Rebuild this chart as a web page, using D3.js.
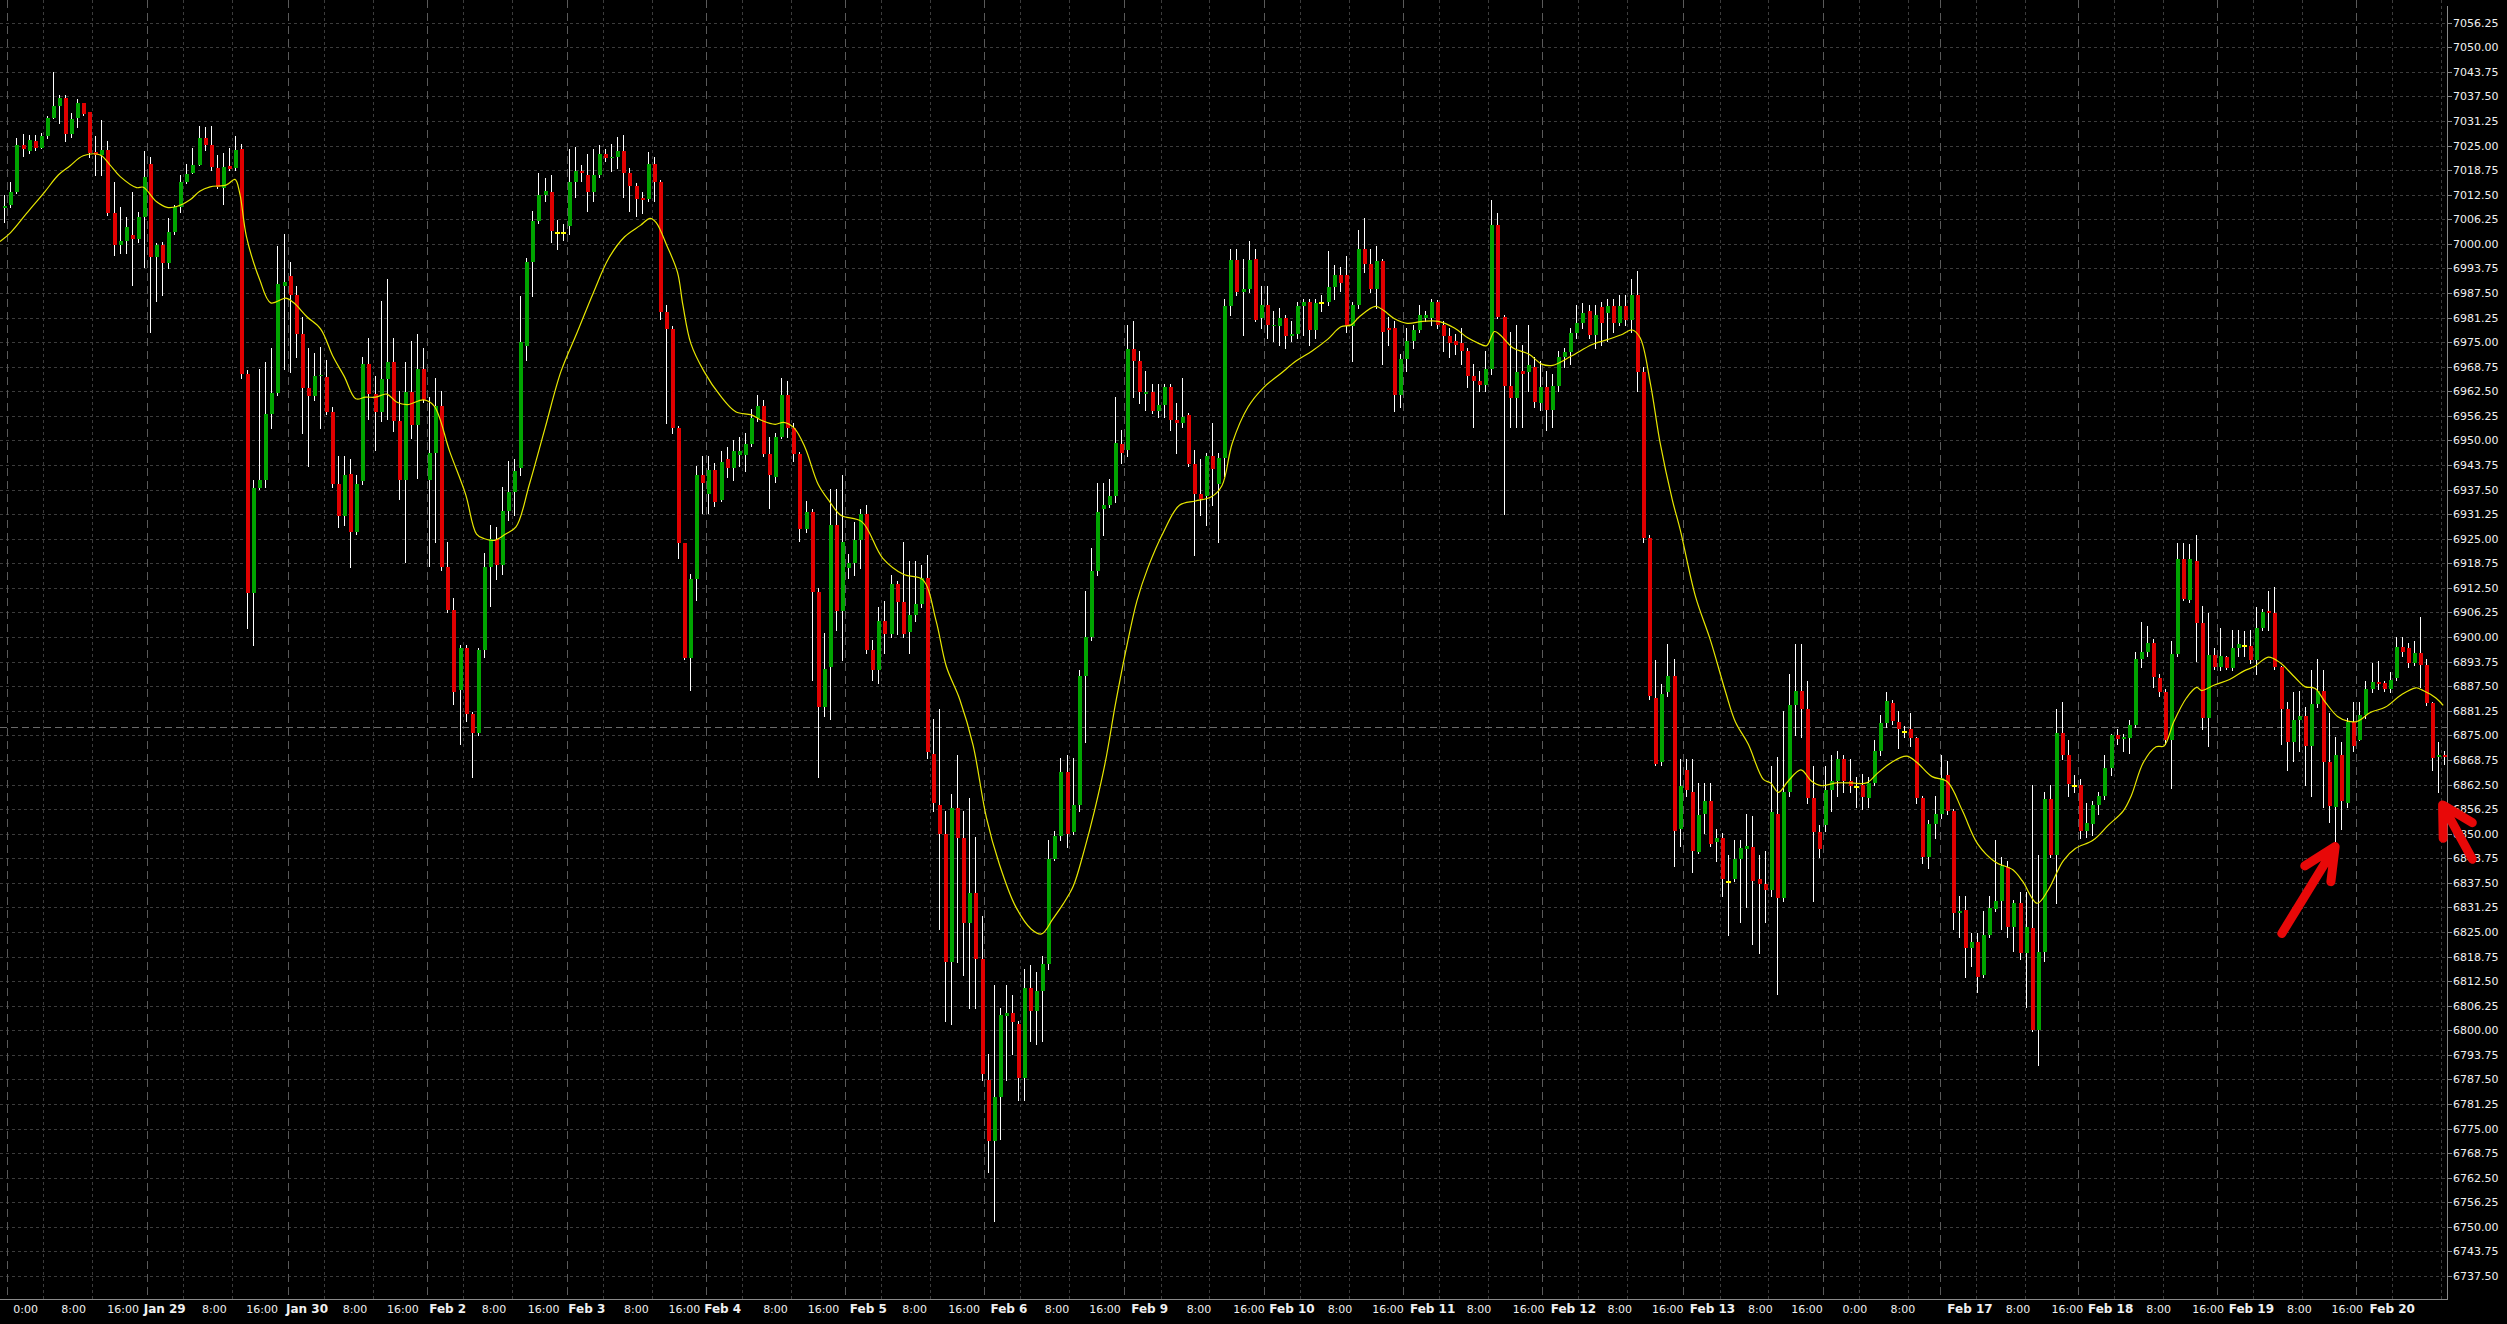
<!DOCTYPE html>
<html><head><meta charset="utf-8">
<script src="https://cdn.jsdelivr.net/npm/d3@7"></script>
<style>html,body{margin:0;padding:0;background:#000;overflow:hidden}</style>
</head><body>
<svg id="chart" width="2507" height="1324"></svg>
<script>
// ---- OHLC (H1 bars, index 0 = first visible bar) ----
const openP = [
7009.2,7009.9,7013.3,7025.1,7023.7,7026.2,7024.5,7027.4,7031.9,7035.1,
7037.1,7027.9,7032.1,7035.8,7033.5,7023.4,7022.7,7023.9,7007.8,6999.7,
7000.7,7002.3,7001.2,7006.8,7020.3,6996.7,6999.7,6995.2,7003.0,7009.4,
7015.7,7017.9,7020.1,7026.9,7025.1,7019.4,7014.2,7019.8,7019.4,7024.1,
6966.9,6911.2,6937.8,6940.0,6956.7,6962.0,6989.4,6991.8,6987.1,6977.1,
6963.4,6961.3,6966.3,6966.1,6957.3,6938.8,6930.9,6941.4,6926.7,6939.6,
6969.4,6961.8,6957.3,6965.7,6970.0,6955.0,6940.0,6962.4,6954.0,6968.1,
6940.0,6946.9,6958.8,6917.7,6906.9,6886.5,6897.3,6880.5,6875.7,6896.7,
6917.7,6924.9,6918.3,6932.1,6936.9,6943.0,6974.1,6995.5,7005.7,7012.5,
7013.1,7003.1,7003.1,7004.5,7015.8,7018.6,7017.6,7013.2,7017.6,7022.8,
7021.8,7022.2,7023.7,7018.0,7014.6,7011.6,7011.4,7020.4,7015.8,6982.6,
6978.4,6953.2,6923.8,6894.6,6914.8,6941.2,6936.4,6942.6,6934.9,6945.4,
6943.0,6946.2,6946.2,6949.0,6955.6,6958.8,6946.6,6940.6,6950.8,6961.6,
6953.2,6946.6,6927.4,6931.8,6911.4,6882.1,6892.5,6928.5,6906.7,6917.6,
6918.8,6924.6,6931.3,6896.7,6891.7,6904.2,6900.9,6913.4,6908.9,6901.2,
6905.6,6908.4,6915.1,6870.3,6857.4,6849.9,6817.4,6856.6,6848.8,6827.4,
6834.9,6818.2,6787.3,6771.9,6783.1,6803.7,6804.5,6801.5,6787.8,6810.7,
6804.8,6809.9,6816.9,6843.6,6849.4,6865.8,6850.4,6857.4,6890.0,6900.1,
6916.8,6932.6,6933.5,6936.0,6949.0,6947.5,6973.2,6970.2,6961.7,6962.2,
6957.4,6959.0,6963.5,6955.2,6954.4,6956.4,6944.0,6936.3,6936.0,6946.0,
6939.0,6945.5,6984.1,6995.8,6987.8,6988.6,6996.1,6981.1,6984.4,6979.1,
6979.1,6981.1,6976.6,6977.2,6984.1,6985.3,6978.2,6985.3,6985.3,6989.1,
6992.0,6992.0,6979.1,6984.4,6998.6,6995.0,6988.6,6995.6,6978.6,6978.6,
6961.5,6970.6,6975.2,6978.2,6981.1,6981.1,6985.3,6979.4,6976.6,6975.2,
6974.7,6972.7,6966.4,6965.2,6964.0,6968.1,7004.8,6981.4,6963.9,6960.7,
6967.7,6967.4,6968.6,6959.4,6963.5,6957.7,6963.9,6971.1,6972.4,6977.4,
6979.9,6982.8,6976.9,6983.9,6982.4,6984.1,6979.9,6984.1,6980.7,6986.9,
6967.4,6925.1,6884.5,6868.1,6885.9,6890.2,6851.1,6866.2,6860.5,6845.3,
6854.9,6858.2,6847.8,6848.8,6837.9,6838.4,6843.6,6846.2,6846.7,6838.4,
6837.3,6835.6,6854.9,6833.7,6860.5,6882.6,6886.4,6881.7,6859.1,6850.5,
6852.1,6861.0,6863.4,6869.0,6863.4,6862.0,6862.4,6859.1,6862.9,6870.9,
6878.1,6883.3,6878.4,6876.1,6876.5,6874.2,6859.1,6844.1,6852.5,6854.9,
6864.8,6855.8,6829.7,6830.6,6821.0,6822.4,6814.0,6824.3,6830.9,6832.8,
6841.4,6826.2,6832.3,6819.6,6826.0,6800.1,6819.9,6858.8,6844.5,6875.6,
6870.1,6862.4,6862.4,6850.6,6852.5,6857.2,6859.6,6866.6,6875.0,6874.1,
6874.2,6877.7,6894.4,6896.3,6898.4,6889.7,6886.1,6873.7,6895.8,6919.8,
6909.4,6919.3,6903.6,6879.5,6895.5,6892.5,6894.9,6892.2,6897.2,6898.0,
6897.7,6894.1,6902.4,6906.6,6906.0,6892.3,6881.7,6873.4,6878.9,6879.8,
6872.3,6882.9,6886.4,6868.1,6856.8,6869.9,6857.9,6878.4,6873.9,6880.3,
6886.7,6888.6,6888.3,6886.7,6889.7,6897.4,6897.2,6893.5,6896.0,6893.0,
6883.3,6869.5,6870.1];
const highP = [
7012.4,7015.8,7026.8,7027.9,7027.7,7027.7,7028.1,7032.5,7043.6,7037.9,
7037.9,7033.2,7036.8,7035.9,7033.5,7027.4,7031.5,7026.2,7015.8,7009.5,
7006.9,7013.3,7008.2,7023.5,7022.2,7000.1,7000.6,7006.6,7010.0,7017.5,
7020.3,7024.3,7030.0,7029.8,7030.0,7022.6,7023.2,7024.4,7027.4,7025.5,
6968.0,6940.0,6968.1,6970.0,6973.5,6999.4,7002.6,6995.4,6989.2,6981.4,
6973.6,6972.3,6973.8,6970.5,6958.5,6946.0,6946.0,6945.3,6941.1,6971.2,
6976.0,6966.3,6985.5,6991.0,6976.0,6962.7,6970.0,6975.4,6977.2,6973.5,
6961.0,6965.8,6962.7,6924.3,6910.0,6898.0,6898.0,6881.0,6897.3,6921.3,
6928.5,6928.0,6938.1,6944.7,6945.3,6986.8,6996.3,7008.4,7018.0,7016.8,
7017.4,7006.0,7005.0,7024.0,7024.6,7020.0,7022.8,7024.0,7025.2,7024.0,
7025.4,7027.3,7027.6,7019.2,7015.6,7013.2,7023.4,7022.2,7016.2,6984.4,
6979.0,6953.8,6924.0,6916.0,6943.6,6946.0,6946.0,6944.2,6947.2,6948.4,
6950.2,6950.8,6952.0,6958.0,6961.6,6960.4,6950.8,6952.0,6965.8,6965.2,
6954.4,6947.0,6934.6,6932.5,6912.4,6901.0,6937.7,6937.7,6941.3,6921.0,
6929.3,6932.6,6933.5,6899.2,6907.6,6909.2,6915.9,6914.3,6924.3,6919.3,
6919.3,6918.4,6920.9,6879.2,6881.7,6855.8,6860.0,6870.0,6855.8,6859.1,
6849.1,6829.0,6794.0,6811.5,6805.7,6811.5,6809.0,6802.3,6815.7,6816.5,
6814.8,6819.0,6848.3,6850.8,6869.2,6870.0,6869.2,6891.7,6911.8,6922.6,
6939.3,6939.3,6940.2,6961.0,6952.7,6979.4,6980.3,6972.7,6967.7,6964.4,
6964.4,6964.4,6964.4,6959.4,6966.0,6956.9,6947.7,6945.2,6946.8,6954.4,
6946.8,6986.1,6998.6,6998.6,6996.1,7000.8,6998.6,6989.4,6989.4,6982.8,
6983.6,6981.9,6980.3,6985.3,6986.1,6986.1,6986.0,6987.0,6998.1,6994.5,
6994.0,6997.0,6985.3,7003.6,7006.7,6998.6,6999.5,6996.1,6981.4,6980.3,
6971.9,6978.6,6979.4,6984.4,6982.8,6986.1,6985.8,6980.3,6978.6,6977.0,
6978.6,6973.6,6969.4,6967.7,6972.7,7011.2,7007.8,6981.9,6977.7,6979.4,
6974.4,6979.4,6971.1,6970.2,6967.7,6966.9,6972.7,6973.6,6978.6,6984.4,
6984.9,6984.4,6984.4,6985.3,6986.1,6986.1,6986.9,6986.9,6991.1,6993.1,
6968.6,6926.0,6894.2,6888.0,6898.2,6894.4,6869.0,6869.0,6869.0,6862.9,
6862.9,6862.9,6851.1,6850.2,6844.5,6848.3,6848.3,6854.9,6854.4,6844.5,
6845.5,6867.1,6869.5,6881.2,6890.6,6898.2,6898.2,6888.8,6867.1,6852.1,
6867.1,6869.9,6870.9,6869.9,6869.0,6864.3,6865.2,6864.3,6873.7,6880.3,
6885.9,6884.1,6881.2,6877.5,6880.8,6874.7,6859.6,6853.5,6859.6,6869.9,
6868.5,6856.3,6834.2,6834.2,6824.8,6824.8,6830.4,6834.2,6848.3,6844.1,
6843.1,6833.2,6835.1,6835.1,6862.4,6844.5,6860.5,6862.4,6881.7,6883.6,
6873.7,6864.8,6863.8,6857.7,6858.2,6860.5,6869.9,6875.4,6876.5,6875.4,
6878.9,6896.3,6903.8,6902.9,6899.6,6890.6,6886.9,6899.1,6924.0,6924.0,
6923.6,6925.9,6908.0,6906.2,6897.2,6902.4,6895.3,6901.9,6901.9,6901.5,
6901.9,6907.6,6907.1,6911.8,6912.7,6892.7,6883.6,6885.9,6886.4,6882.2,
6891.6,6894.4,6891.6,6880.8,6874.7,6873.2,6879.4,6883.6,6883.6,6888.8,
6893.5,6893.9,6888.8,6891.1,6900.0,6900.0,6898.6,6899.1,6905.0,6894.4,
6883.5,6873.2,6870.9];
const lowP = [
7005.6,7009.5,7012.9,7022.4,7023.2,7023.9,7024.5,7027.0,7031.9,7030.8,
7026.2,7027.1,7029.8,7032.8,7022.2,7017.5,7017.5,7007.3,6997.2,6997.6,
6997.6,6989.5,7000.5,6994.0,6977.7,6985.5,6987.0,6993.8,7002.5,7008.0,
7015.4,7017.9,7020.1,7023.9,7018.8,7014.1,7010.1,7018.8,7018.8,6965.8,
6902.2,6898.0,6937.6,6938.2,6953.1,6961.5,6968.1,6967.5,6971.2,6952.0,
6943.5,6960.4,6953.2,6956.8,6938.1,6928.0,6928.5,6917.7,6926.2,6938.8,
6955.5,6947.7,6955.0,6955.5,6952.5,6935.1,6919.0,6950.7,6940.5,6959.7,
6918.0,6924.3,6917.1,6906.3,6883.0,6872.7,6878.7,6864.3,6875.1,6895.0,
6908.0,6914.7,6916.0,6929.7,6931.0,6941.1,6970.5,6986.8,7005.3,7010.8,
7000.6,6998.8,7001.0,7002.4,7012.0,7016.0,7008.4,7010.8,7017.0,7021.0,
7018.6,7019.2,7012.0,7008.4,7007.2,7007.8,7010.8,7010.8,6980.8,6954.4,
6952.0,6920.2,6894.3,6886.6,6909.4,6931.5,6931.5,6933.4,6934.6,6940.6,
6940.0,6943.6,6942.3,6948.5,6955.0,6946.0,6932.8,6939.4,6950.5,6950.8,
6944.8,6924.4,6926.7,6889.0,6864.4,6880.0,6879.2,6901.7,6894.2,6915.0,
6915.9,6917.6,6895.9,6889.2,6888.4,6895.9,6900.1,6900.9,6900.1,6895.9,
6904.2,6907.6,6869.2,6855.8,6825.7,6802.3,6801.5,6817.4,6814.0,6805.7,
6805.7,6787.3,6763.9,6751.4,6772.3,6787.3,6794.0,6782.3,6782.3,6797.3,
6796.5,6797.3,6815.7,6843.3,6848.3,6846.6,6849.9,6855.8,6873.3,6899.2,
6915.9,6926.0,6933.0,6934.3,6944.3,6946.0,6961.0,6959.4,6957.7,6956.9,
6956.0,6956.0,6952.7,6946.8,6953.5,6943.5,6920.9,6931.0,6928.5,6933.5,
6924.3,6941.0,6981.9,6986.9,6976.9,6987.8,6980.3,6978.6,6976.1,6975.2,
6974.4,6973.6,6975.2,6976.1,6976.9,6974.4,6976.0,6983.0,6984.4,6986.1,
6988.0,6977.7,6970.2,6983.6,6992.8,6987.8,6983.6,6969.4,6974.4,6957.4,
6958.5,6967.7,6973.6,6977.7,6980.3,6979.4,6978.6,6972.7,6971.1,6972.0,
6969.4,6963.5,6953.5,6962.7,6962.7,6966.9,6981.1,6931.3,6953.5,6953.5,
6953.5,6962.7,6958.5,6957.7,6952.7,6953.5,6962.7,6968.6,6969.4,6976.1,
6978.6,6976.1,6973.6,6974.4,6975.2,6977.7,6979.4,6979.4,6977.7,6962.7,
6924.3,6884.2,6867.5,6867.5,6885.0,6841.7,6846.9,6859.6,6840.3,6845.0,
6850.2,6846.9,6843.1,6834.2,6824.3,6837.9,6827.6,6831.4,6822.0,6819.6,
6827.6,6834.2,6809.3,6832.8,6859.6,6875.1,6874.7,6857.7,6832.8,6844.1,
6850.6,6855.8,6859.6,6860.5,6860.5,6856.8,6856.3,6856.8,6862.4,6869.9,
6877.0,6877.9,6871.8,6874.7,6872.3,6857.7,6842.6,6841.2,6848.8,6853.9,
6854.9,6825.7,6823.8,6813.5,6816.3,6809.7,6813.5,6823.8,6830.4,6825.7,
6823.8,6820.1,6818.2,6806.0,6799.8,6791.1,6817.7,6844.1,6832.3,6869.0,
6859.6,6860.5,6848.8,6849.2,6849.7,6854.9,6858.7,6864.8,6872.8,6870.9,
6870.4,6877.0,6892.5,6895.3,6887.4,6885.0,6872.8,6861.5,6895.3,6909.4,
6909.0,6893.9,6876.5,6872.3,6892.0,6891.6,6891.8,6891.6,6895.3,6895.3,
6893.5,6890.6,6901.9,6901.9,6892.0,6872.8,6866.2,6868.5,6870.9,6862.4,
6859.6,6882.2,6856.8,6853.0,6847.8,6851.1,6856.8,6870.9,6873.7,6879.4,
6885.9,6886.9,6886.4,6885.9,6889.2,6895.3,6892.5,6893.0,6887.4,6882.6,
6866.2,6860.5,6867.6];
const closeP = [
7009.7,7013.1,7025.1,7024.0,7026.4,7024.5,7027.4,7031.9,7035.1,7037.1,
7027.9,7031.8,7035.7,7033.1,7023.2,7022.7,7023.9,7007.8,6999.7,7000.7,
7004.3,7001.2,7006.8,7017.0,6996.7,6999.7,6995.2,7003.0,7009.4,7015.7,
7017.8,7020.1,7026.9,7025.1,7019.6,7014.5,7019.6,7019.1,7023.9,6966.9,
6911.2,6937.8,6940.0,6956.7,6962.0,6989.7,6990.3,6987.1,6977.1,6963.4,
6961.3,6966.3,6966.6,6957.3,6938.8,6930.9,6941.1,6926.7,6939.0,6969.4,
6961.8,6957.3,6965.7,6970.0,6955.0,6940.0,6962.4,6954.0,6968.1,6960.3,
6946.9,6958.8,6917.7,6906.9,6885.9,6897.3,6880.5,6875.7,6896.7,6917.7,
6924.9,6918.3,6932.1,6936.9,6942.3,6975.1,6995.5,7005.7,7012.5,7013.4,
7003.3,7003.1,7003.1,7015.8,7018.6,7018.0,7013.2,7017.6,7022.8,7021.9,
7022.2,7023.7,7018.0,7014.6,7011.4,7011.1,7020.4,7015.8,6982.6,6978.4,
6953.2,6923.8,6894.6,6914.8,6941.2,6939.1,6942.6,6934.3,6944.5,6943.0,
6947.2,6947.4,6949.0,6955.6,6958.8,6946.6,6941.2,6950.8,6961.6,6953.2,
6946.6,6927.4,6931.8,6911.4,6882.1,6892.0,6928.5,6906.7,6924.3,6918.8,
6924.6,6931.3,6896.7,6891.7,6904.2,6900.9,6913.4,6908.9,6900.9,6905.6,
6908.4,6915.1,6870.8,6857.8,6849.9,6817.4,6856.6,6848.8,6827.4,6834.9,
6818.2,6789.0,6771.9,6783.1,6804.0,6804.5,6802.0,6787.8,6810.7,6804.8,
6809.9,6816.9,6843.6,6849.4,6865.8,6849.9,6857.4,6890.0,6900.1,6916.8,
6931.8,6933.5,6936.0,6949.3,6946.8,6973.2,6970.2,6962.2,6962.2,6957.4,
6958.9,6963.5,6955.2,6954.4,6956.0,6944.0,6936.3,6935.2,6946.0,6942.7,
6945.5,6984.1,6995.8,6987.8,6988.6,6995.8,6980.7,6984.4,6979.4,6979.4,
6981.1,6976.6,6977.2,6984.1,6985.3,6978.2,6984.9,6985.3,6989.1,6992.0,
6990.0,6979.1,6984.4,6998.6,6995.0,6988.6,6995.6,6977.7,6978.2,6961.5,
6970.6,6975.2,6978.2,6981.9,6981.9,6985.3,6979.4,6976.6,6974.7,6974.4,
6972.7,6966.4,6965.2,6964.0,6968.1,7004.8,6981.4,6963.9,6960.7,6967.4,
6966.9,6969.1,6959.7,6963.5,6957.7,6963.9,6971.1,6972.4,6977.4,6979.9,
6982.4,6976.9,6981.9,6979.9,6984.1,6979.9,6984.1,6980.7,6986.9,6967.4,
6925.1,6885.0,6867.8,6885.5,6890.2,6850.8,6862.0,6861.0,6845.5,6854.7,
6858.2,6847.4,6848.8,6838.4,6837.9,6843.6,6846.4,6846.9,6837.9,6837.3,
6835.6,6855.4,6833.7,6860.5,6882.6,6886.4,6881.7,6859.1,6850.5,6846.2,
6861.0,6863.4,6869.0,6863.4,6862.0,6862.0,6859.3,6862.9,6870.9,6878.1,
6883.8,6878.7,6876.5,6876.1,6874.2,6859.1,6844.1,6852.5,6854.9,6864.1,
6855.8,6829.7,6830.4,6821.0,6822.4,6813.5,6824.3,6831.1,6832.8,6841.7,
6826.2,6832.3,6819.6,6826.2,6800.1,6819.9,6858.8,6844.5,6875.6,6870.1,
6862.6,6862.4,6850.6,6852.7,6857.2,6859.6,6866.6,6875.0,6874.1,6874.7,
6877.7,6894.4,6896.3,6898.4,6889.9,6886.1,6873.7,6895.8,6919.8,6909.6,
6919.8,6903.6,6879.5,6895.5,6892.5,6895.1,6892.2,6897.2,6898.2,6898.0,
6894.1,6902.4,6906.4,6906.0,6892.3,6881.7,6873.4,6878.9,6879.8,6872.3,
6882.9,6886.4,6868.1,6857.0,6869.9,6858.2,6878.4,6872.3,6880.3,6886.7,
6888.6,6888.1,6886.7,6889.2,6897.4,6896.1,6893.5,6896.0,6893.0,6883.3,
6869.2,6870.1,6869.5];

// ---- Moving average (yellow line), read at bar positions ----
const maIdx = [-0.7,1.0,3.7,6.7,8.9,10.8,13.0,15.8,17.4,19.1,21.8,22.9,25.1,26.8,28.4,30.6,32.2,33.9,36.6,38.0,38.8,39.9,42.1,43.9,46.4,47.7,49.9,52.1,54.2,56.0,57.9,59.5,61.2,63.0,64.7,66.4,69.1,70.8,73.4,76.0,77.8,79.1,80.8,82.6,84.3,86.5,89.1,91.7,94.3,97.0,99.6,102.2,104.8,106.4,107.4,109.2,110.9,111.8,113.1,115.3,117.9,120.5,123.1,124.9,127.0,128.4,130.1,131.9,134.1,136.0,137.8,141.3,144.7,148.2,151.3,153.5,155.2,157.4,159.6,161.8,163.9,166.6,169.2,170.9,172.7,174.4,176.1,177.9,179.6,181.4,183.1,184.9,186.6,188.4,191.0,193.6,196.2,198.8,200.6,202.3,204.9,207.5,210.2,212.8,215.4,218.0,220.2,221.9,223.2,225.9,227.2,228.9,231.1,233.7,236.3,238.9,241.1,242.9,244.2,245.5,246.4,248.5,251.2,253.3,255.1,258.1,261.6,264.2,266.4,268.2,269.5,271.2,272.8,274.8,276.1,278.6,281.1,283.6,285.2,287.3,289.8,291.0,292.3,293.9,296.0,297.7,299.3,301.8,304.3,306.8,308.5,310.9,313.4,315.1,317.6,320.1,322.6,325.1,328.0,330.9,332.5,334.9,336.7,339.2,341.2,344.1,346.6,349.1,350.4,352.4,354.5,355.8,357.4,359.5,361.2,362.0,364.1,366.6,369.0,370.7,373.0,374.9,377.4,379.0,380.7,382.3,384.4,386.1,387.7,389.8,392.3,394.8,397.3,398.5,400.6,401.8];
const maVal = [7000.6,7002.8,7007.8,7013.3,7017.5,7019.8,7022.4,7022.6,7020.1,7017.1,7014.3,7014.4,7010.7,7009.3,7009.5,7011.2,7013.4,7014.5,7015.0,7016.4,7012.8,7001.8,6990.8,6985.0,6986.2,6985.0,6981.4,6978.4,6971.2,6966.3,6960.6,6961.0,6961.0,6961.8,6959.7,6959.1,6960.3,6958.8,6947.1,6936.3,6926.2,6925.0,6924.6,6926.2,6928.0,6938.8,6953.2,6967.5,6977.2,6987.4,6996.4,7001.8,7004.7,7006.5,7005.4,6999.4,6992.8,6984.4,6974.7,6967.5,6961.5,6957.3,6956.5,6955.0,6954.1,6954.6,6953.2,6948.3,6938.8,6934.4,6931.0,6929.3,6920.1,6915.9,6914.6,6904.2,6892.5,6884.2,6872.5,6854.1,6842.4,6831.5,6825.7,6824.5,6828.2,6832.0,6836.6,6845.7,6855.8,6868.3,6883.3,6897.5,6909.2,6917.6,6926.8,6933.5,6934.6,6935.6,6938.5,6949.3,6958.5,6963.5,6966.9,6970.2,6972.7,6975.7,6978.9,6979.4,6981.4,6984.1,6983.1,6981.1,6979.8,6980.3,6980.3,6978.6,6976.1,6974.7,6974.1,6977.7,6976.9,6973.6,6971.9,6969.4,6969.1,6971.4,6974.4,6975.7,6976.9,6978.1,6976.1,6964.4,6949.3,6934.9,6927.3,6910.4,6899.1,6885.9,6878.4,6872.8,6863.8,6862.9,6860.5,6863.4,6866.2,6863.4,6862.2,6862.9,6862.9,6862.9,6865.2,6868.1,6869.7,6868.1,6864.5,6863.2,6855.8,6847.4,6842.8,6840.8,6837.9,6832.3,6835.6,6843.1,6846.2,6848.3,6852.1,6855.8,6859.6,6868.1,6872.1,6872.3,6878.4,6884.5,6887.2,6886.4,6887.8,6889.2,6891.4,6892.5,6894.9,6893.5,6889.7,6887.4,6886.9,6883.6,6879.8,6878.6,6878.6,6880.8,6882.2,6885.2,6887.1,6886.4,6884.5,6882.6];

// ---- Axis ticks and labels ----
const yTicks = [6737.50,6743.75,6750.00,6756.25,6762.50,6768.75,6775.00,6781.25,6787.50,6793.75,6800.00,6806.25,6812.50,6818.75,6825.00,6831.25,6837.50,6843.75,6850.00,6856.25,6862.50,6868.75,6875.00,6881.25,6887.50,6893.75,6900.00,6906.25,6912.50,6918.75,6925.00,6931.25,6937.50,6943.75,6950.00,6956.25,6962.50,6968.75,6975.00,6981.25,6987.50,6993.75,7000.00,7006.25,7012.50,7018.75,7025.00,7031.25,7037.50,7043.75,7050.00,7056.25];
const xLabelText = ["0:00","8:00","16:00","Jan 29","8:00","16:00","Jan 30","8:00","16:00","Feb 2","8:00","16:00","Feb 3","8:00","16:00","Feb 4","8:00","16:00","Feb 5","8:00","16:00","Feb 6","8:00","16:00","Feb 9","8:00","16:00","Feb 10","8:00","16:00","Feb 11","8:00","16:00","Feb 12","8:00","16:00","Feb 13","8:00","16:00","0:00","8:00","Feb 17","8:00","16:00","Feb 18","8:00","16:00","Feb 19","8:00","16:00","Feb 20"];
const xLabelPos = [3.51,11.42,19.57,26.43,34.60,42.49,49.87,57.78,65.68,73.05,80.68,88.86,95.96,104.14,112.04,118.35,127.05,134.96,142.34,149.97,158.14,165.52,173.43,181.34,188.70,196.82,205.06,212.14,220.05,227.96,235.32,242.95,251.12,258.50,266.14,274.05,281.42,289.32,296.99,304.89,312.8,323.84,331.75,339.9,347.02,354.93,363.08,370.2,378.1,386.0,393.4];
// day separators (long dashes), in bar units; intermediate grid lines follow each separator
const daySepPos = [0.44,23.5,46.74,69.64,92.7,115.6,138.5,161.4,184.5,207.5,230.4,253.3,276.6,299.6,318.9,341.6,364.5,387.4];
const gridOffsets = [6.0, 14.0];
const levelPrice = 6877.2;
// hand-drawn arrows: [tipIdx, tipPrice, tailIdx, tailPrice, barb1Idx, barb1Price, barb2Idx, barb2Price]
const arrows = [
  [384.0,6846.7, 375.2,6824.6, 379.0,6841.8, 383.3,6837.8],
  [401.7,6857.3, 406.6,6843.5, 401.8,6848.8, 406.6,6852.8]
];

// ---- layout ----
const W = 2507, H = 1324, plotR = 2447, plotB = 1299;
const svg = d3.select('#chart');
svg.append('rect').attr('width', W).attr('height', H).attr('fill', '#000');
const x = d3.scaleLinear().domain([0, 402]).range([4.3, 2444.4]);
const y = d3.scaleLinear().domain([6731.65, 7062.02]).range([plotB, 0]);

svg.append('defs').append('clipPath').attr('id', 'clip')
  .append('rect').attr('x', 0).attr('y', 0).attr('width', plotR).attr('height', plotB);

const gridPos = [];
daySepPos.forEach(p => gridOffsets.forEach(o => gridPos.push(p + o)));

const grid = svg.append('g').attr('clip-path', 'url(#clip)').attr('shape-rendering', 'crispEdges');
grid.selectAll('line.h').data(yTicks).join('line').attr('class', 'h')
  .attr('x1', 0).attr('x2', plotR)
  .attr('y1', d => Math.round(y(d)) + 0.5).attr('y2', d => Math.round(y(d)) + 0.5)
  .attr('stroke', '#3c3c3c').attr('stroke-dasharray', '3,3');
grid.selectAll('line.v').data(gridPos).join('line').attr('class', 'v')
  .attr('x1', d => Math.round(x(d)) + 0.5).attr('x2', d => Math.round(x(d)) + 0.5)
  .attr('y1', 0).attr('y2', plotB)
  .attr('stroke', '#3c3c3c').attr('stroke-dasharray', '3,3');
grid.selectAll('line.d').data(daySepPos).join('line').attr('class', 'd')
  .attr('x1', d => Math.round(x(d)) + 0.5).attr('x2', d => Math.round(x(d)) + 0.5)
  .attr('y1', 0).attr('y2', plotB)
  .attr('stroke', '#5a5a5a').attr('stroke-dasharray', '8,5');
grid.append('line').attr('x1', 0).attr('x2', plotR)
  .attr('y1', Math.round(y(levelPrice)) + 0.5).attr('y2', Math.round(y(levelPrice)) + 0.5)
  .attr('stroke', '#6a6a6a').attr('stroke-dasharray', '7,4');

// ---- candles ----
const bars = openP.map((o, i) => ({ i, o, h: highP[i], l: lowP[i], c: closeP[i] }));
const cg = svg.append('g').attr('clip-path', 'url(#clip)').attr('shape-rendering', 'crispEdges');
const cx = d => Math.round(x(d.i));
cg.selectAll('line.wick').data(bars).join('line').attr('class', 'wick')
  .attr('x1', d => cx(d) + 0.5).attr('x2', d => cx(d) + 0.5)
  .attr('y1', d => Math.round(y(Math.max(d.h, d.o, d.c))))
  .attr('y2', d => Math.round(y(Math.min(d.l, d.o, d.c))) + 1)
  .attr('stroke', '#ffffff').attr('stroke-width', 1);
const bodies = bars.filter(d => Math.abs(d.o - d.c) > 0.05);
cg.selectAll('rect.body').data(bodies).join('rect').attr('class', 'body')
  .attr('x', d => cx(d) - 1)
  .attr('width', 4)
  .attr('y', d => Math.round(y(Math.max(d.o, d.c))))
  .attr('height', d => Math.max(1, Math.round(y(Math.min(d.o, d.c))) - Math.round(y(Math.max(d.o, d.c)))))
  .attr('fill', d => d.c > d.o ? '#00a400' : '#e00000');
const dojis = bars.filter(d => Math.abs(d.o - d.c) <= 0.05);
cg.selectAll('rect.doji').data(dojis).join('rect').attr('class', 'doji')
  .attr('x', d => cx(d) - 2).attr('width', 5)
  .attr('y', d => Math.round(y(d.c))).attr('height', 2)
  .attr('fill', '#ffff00');

// ---- moving average ----
const maPts = maIdx.map((v, k) => [v, maVal[k]]);
svg.append('g').attr('clip-path', 'url(#clip)').append('path')
  .attr('d', d3.line().x(d => x(d[0])).y(d => y(d[1])).curve(d3.curveCatmullRom.alpha(0.5))(maPts))
  .attr('fill', 'none').attr('stroke', '#e8e800').attr('stroke-width', 1.2);

// ---- axes ----
const ax = svg.append('g').attr('shape-rendering', 'crispEdges');
ax.append('line').attr('x1', plotR + 0.5).attr('x2', plotR + 0.5).attr('y1', 6).attr('y2', plotB + 1)
  .attr('stroke', '#8a8a8a');
ax.append('line').attr('x1', 0).attr('x2', plotR + 1).attr('y1', plotB + 0.5).attr('y2', plotB + 0.5)
  .attr('stroke', '#8a8a8a');
ax.selectAll('line.yt').data(yTicks).join('line').attr('class', 'yt')
  .attr('x1', plotR).attr('x2', plotR + 5)
  .attr('y1', d => Math.round(y(d)) + 0.5).attr('y2', d => Math.round(y(d)) + 0.5)
  .attr('stroke', '#8a8a8a');
svg.append('g').selectAll('text').data(yTicks).join('text')
  .attr('x', plotR + 6).attr('y', d => y(d) + 4)
  .attr('font-family', 'DejaVu Sans, sans-serif').attr('font-size', 11)
  .attr('fill', '#f0f0f0').text(d => d.toFixed(2));
svg.append('g').selectAll('text').data(xLabelText).join('text')
  .attr('x', (d, k) => x(xLabelPos[k])).attr('y', 1313)
  .attr('text-anchor', 'middle')
  .attr('font-family', 'DejaVu Sans, sans-serif')
  .attr('font-size', d => /^[A-Z]/.test(d) ? 12 : 11)
  .attr('font-weight', d => /^[A-Z]/.test(d) ? 'bold' : 'normal')
  .attr('fill', '#f0f0f0').text(d => d);

// ---- annotation arrows ----
const ag = svg.append('g');
arrows.forEach(a => {
  const p = k => [x(a[k]), y(a[k + 1])];
  const tip = p(0), tail = p(2), b1 = p(4), b2 = p(6);
  ag.append('path')
    .attr('d', `M${tail}L${tip}M${b1}L${tip}L${b2}`)
    .attr('fill', 'none').attr('stroke', '#e80808').attr('stroke-width', 9)
    .attr('stroke-linecap', 'round').attr('stroke-linejoin', 'round');
});
</script>
</body></html>
